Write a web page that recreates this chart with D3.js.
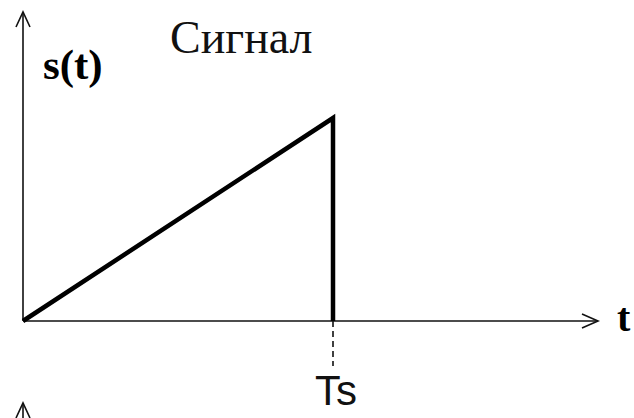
<!DOCTYPE html>
<html>
<head>
<meta charset="utf-8">
<script src="https://cdn.jsdelivr.net/npm/d3@7"></script>
<style>
  body { margin: 0; background: #fff; }
  svg { display: block; }
</style>
</head>
<body>
<div id="chart"></div>
<script>
// signal: ramp from 0 up to the peak at Ts, then drop back to 0
const signalT = [0, 1, 1];   // time, in units of Ts
const signalS = [0, 1, 0];   // amplitude, normalised to peak
const markT = [1];           // dashed marker under Ts
const markLabels = ["Ts"];

const W = 634, H = 418;

function main() {
    const svg = d3.select("#chart")
        .append("svg")
            .attr("width", W)
            .attr("height", H);

    // origin at (23, 321), Ts lands at x = 333, peak at y = 118
    const x = d3.scaleLinear().domain([0, 1]).range([23, 333]);
    const y = d3.scaleLinear().domain([0, 1]).range([321, 118]);

    const axisColor = "#111";

    // y axis with open arrow
    svg.append("line")
        .attr("x1", x(0)).attr("y1", y(0))
        .attr("x2", x(0)).attr("y2", 12)
        .attr("stroke", axisColor).attr("stroke-width", 1.6);
    svg.append("path")
        .attr("d", `M${x(0) - 7},${27} L${x(0)},${12} L${x(0) + 7},${27}`)
        .attr("fill", "none").attr("stroke", axisColor).attr("stroke-width", 1.6);

    // x axis with open arrow
    const xEnd = 598;
    svg.append("line")
        .attr("x1", x(0)).attr("y1", y(0))
        .attr("x2", xEnd).attr("y2", y(0))
        .attr("stroke", axisColor).attr("stroke-width", 1.6);
    svg.append("path")
        .attr("d", `M${xEnd - 16},${y(0) - 7} L${xEnd},${y(0)} L${xEnd - 16},${y(0) + 7}`)
        .attr("fill", "none").attr("stroke", axisColor).attr("stroke-width", 1.6);

    // the signal itself
    const pts = signalT.map((t, i) => [t, signalS[i]]);
    svg.append("path")
        .datum(pts)
        .attr("d", d3.line().x(d => x(d[0])).y(d => y(d[1])))
        .attr("fill", "none")
        .attr("stroke", "#000")
        .attr("stroke-width", 4.5)
        .attr("stroke-linejoin", "miter");

    // dashed marker down to Ts label
    svg.selectAll("line.mark")
        .data(markT)
        .enter().append("line")
            .attr("class", "mark")
            .attr("x1", d => x(d)).attr("y1", y(0))
            .attr("x2", d => x(d)).attr("y2", 366)
            .attr("stroke", axisColor)
            .attr("stroke-width", 1.6)
            .attr("stroke-dasharray", "6,4");

    svg.selectAll("text.mark")
        .data(markT)
        .enter().append("text")
            .attr("class", "mark")
            .attr("x", d => x(d) - 18)
            .attr("y", 405)
            .attr("font-family", "Liberation Sans, Arial, sans-serif")
            .attr("font-size", 42)
            .attr("fill", "#111")
            .text((d, i) => markLabels[i]);

    // labels
    svg.append("text")
        .attr("x", 43).attr("y", 79)
        .attr("font-family", "Liberation Serif, Times New Roman, serif")
        .attr("font-weight", "bold")
        .attr("font-size", 43)
        .text("s(t)");

    svg.append("text")
        .attr("x", 170).attr("y", 53)
        .attr("font-family", "Liberation Serif, Times New Roman, serif")
        .attr("font-size", 46)
        .attr("fill", "#111")
        .text("Сигнал");

    svg.append("text")
        .attr("x", 617).attr("y", 331)
        .attr("font-family", "Liberation Serif, Times New Roman, serif")
        .attr("font-weight", "bold")
        .attr("font-size", 40)
        .text("t");

    // start of the next panel's axis, cut off at the bottom
    svg.append("line")
        .attr("x1", x(0)).attr("y1", 403)
        .attr("x2", x(0)).attr("y2", H)
        .attr("stroke", axisColor).attr("stroke-width", 1.6);
    svg.append("path")
        .attr("d", `M${x(0) - 7},${418} L${x(0)},${403} L${x(0) + 7},${418}`)
        .attr("fill", "none").attr("stroke", axisColor).attr("stroke-width", 1.6);
}

main();
</script>
</body>
</html>
